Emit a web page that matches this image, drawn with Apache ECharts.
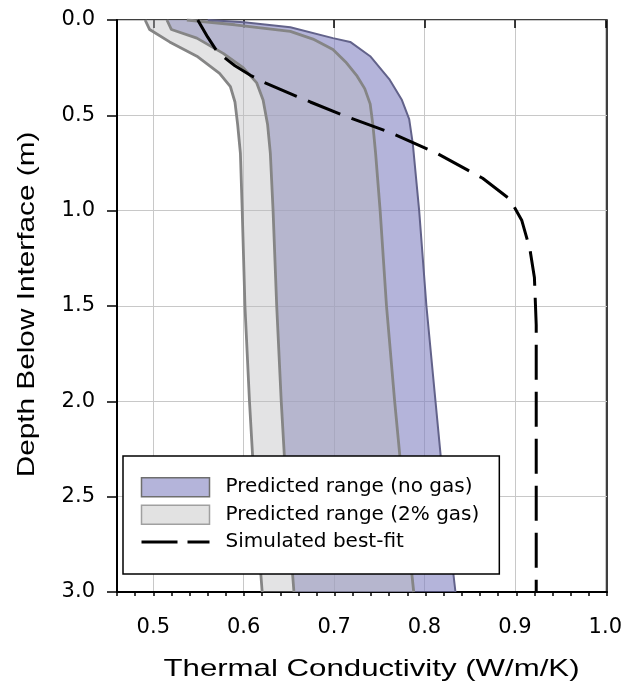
<!DOCTYPE html>
<html>
<head>
<meta charset="utf-8">
<script src="https://cdn.jsdelivr.net/npm/echarts@6/dist/echarts.min.js"></script>
<style>
html,body{margin:0;padding:0;background:#fff;}
#chart{width:625px;height:684px;}
</style>
</head>
<body>
<div id="chart"></div>
<script>
// ---- data: [thermal conductivity (W/m/K), depth (m)] ----
const noGasMin = [[0.515,0],[0.520,0.05],[0.548,0.095],[0.577,0.175],[0.599,0.25],[0.614,0.33],[0.621,0.42],[0.626,0.55],[0.629,0.7],[0.632,1.0],[0.636,1.5],[0.641,2.0],[0.647,2.5],[0.655,3.0]];
const noGasMax = [[0.560,0],[0.600,0.012],[0.651,0.038],[0.698,0.095],[0.717,0.115],[0.739,0.19],[0.760,0.31],[0.774,0.42],[0.782,0.52],[0.786,0.65],[0.793,1.0],[0.801,1.5],[0.811,2.0],[0.821,2.5],[0.833,3.0]];
const gasMin = [[0.491,0],[0.496,0.05],[0.518,0.115],[0.548,0.19],[0.573,0.28],[0.585,0.35],[0.590,0.43],[0.593,0.55],[0.596,0.7],[0.598,1.0],[0.601,1.5],[0.606,2.0],[0.612,2.5],[0.620,3.0]];
const gasMax = [[0.537,0],[0.590,0.025],[0.651,0.06],[0.676,0.1],[0.698,0.155],[0.712,0.22],[0.724,0.29],[0.733,0.36],[0.739,0.44],[0.742,0.55],[0.745,0.7],[0.750,1.0],[0.757,1.5],[0.766,2.0],[0.776,2.5],[0.787,3.0]];
const bestFit = [[0.549,0],[0.560,0.09],[0.571,0.17],[0.590,0.24],[0.607,0.29],[0.621,0.325],[0.658,0.40],[0.673,0.43],[0.709,0.5],[0.761,0.59],[0.813,0.70],[0.863,0.83],[0.893,0.94],[0.906,1.05],[0.915,1.2],[0.920,1.35],[0.922,1.6],[0.922,2.0],[0.922,2.5],[0.922,3.0]];

const seriesNames = ['Predicted range (no gas)', 'Predicted range (2% gas)', 'Simulated best-fit'];
const xTitle = 'Thermal Conductivity (W/m/K)';
const yTitle = 'Depth Below Interface (m)';

const kMin = 0.46, kMax = 1.0, kMinor = 0.02, kMajorStart = 0.5, kMajor = 0.1;
const dMin = 0, dMax = 3, dStep = 0.5;

// ---- layout ----
const G = {left:117, top:20, width:490, height:572};
const majorLeft = G.left + G.width * (kMajorStart - kMin) / (kMax - kMin);
const LABEL_FONT = "'DejaVu Sans', Verdana, sans-serif";
const TITLE_FONT = "'Liberation Sans', Arial, sans-serif";

function band(left, right, fill) {
  return function (params, api) {
    if (params.dataIndex !== 0) return null;
    const pts = left.map(p => api.coord(p)).concat(right.slice().reverse().map(p => api.coord(p)));
    return {type:'polygon', shape:{points:pts}, style:{fill:fill, stroke:'none'}};
  };
}
function edge(name, data, color, width) {
  return {name:name, type:'line', xAxisIndex:0, yAxisIndex:0, data:data, symbol:'none', silent:true,
          lineStyle:{color:color, width:width}, z:4, animation:false};
}

const chart = echarts.init(document.getElementById('chart'), null, {renderer:'canvas'});
chart.setOption({
  animation:false,
  backgroundColor:'#fff',
  textStyle:{fontFamily:LABEL_FONT},
  grid:[
    {left:G.left, top:G.top, width:G.width, height:G.height, show:true, borderColor:'#000', borderWidth:1.5, backgroundColor:'transparent'},
    {left:majorLeft, top:G.top, width:G.left + G.width - majorLeft, height:G.height}
  ],
  xAxis:[
    {type:'value', gridIndex:0, min:kMin, max:kMax, interval:kMinor,
     axisLine:{show:true, onZero:false, lineStyle:{color:'#000', width:2}},
     axisTick:{show:true, length:4, lineStyle:{color:'#000', width:1.5}},
     axisLabel:{show:false}, splitLine:{show:false}},
    {type:'value', gridIndex:1, min:kMajorStart, max:kMax, interval:kMajor,
     axisLine:{show:false},
     axisTick:{show:true, length:8, lineStyle:{color:'#000', width:1.5}},
     axisLabel:{show:true, margin:25, fontSize:21, color:'#000', fontFamily:LABEL_FONT, formatter:v => v.toFixed(1)},
     splitLine:{show:true, lineStyle:{color:'#c8c8c8', width:1}}}
  ],
  yAxis:[
    {type:'value', gridIndex:0, min:dMin, max:dMax, interval:dStep, inverse:true,
     axisLine:{show:true, onZero:false, lineStyle:{color:'#000', width:2}},
     axisTick:{show:true, length:10, lineStyle:{color:'#000', width:1.5}},
     axisLabel:{show:true, margin:22, fontSize:21, color:'#000', fontFamily:LABEL_FONT, formatter:v => v.toFixed(1)},
     splitLine:{show:true, lineStyle:{color:'#c8c8c8', width:1}}},
    {type:'value', gridIndex:1, min:dMin, max:dMax, interval:dStep, inverse:true, show:false}
  ],
  legend:{
    orient:'vertical', left:123, top:456, z:10,
    padding:[21, 20, 22, 17],
    backgroundColor:'#fff', borderColor:'#000', borderWidth:1.5, borderRadius:0,
    itemWidth:68, itemHeight:19, itemGap:7,
    textStyle:{fontSize:20, color:'#000', fontFamily:LABEL_FONT, padding:[0,0,0,11]},
    selectedMode:false,
    data:[
      {name:seriesNames[0], icon:'rect', itemStyle:{color:'#b4b4da', borderColor:'#6e6e6e', borderWidth:1.5}},
      {name:seriesNames[1], icon:'rect', itemStyle:{color:'#e2e2e2', borderColor:'#a0a0a0', borderWidth:1.5}},
      {name:seriesNames[2], itemStyle:{color:'rgba(0,0,0,0)', borderColor:'rgba(0,0,0,0)', borderWidth:0, opacity:0},
       lineStyle:{color:'#000', width:3, type:[36,10], opacity:1}}
    ]
  },
  graphic:[
    {type:'text', x:371.5, y:669, scaleX:1.3, style:{text:xTitle, font:'24px ' + TITLE_FONT, fill:'#000', textAlign:'center', textVerticalAlign:'middle'}},
    {type:'text', x:27, y:304.5, rotation:Math.PI/2, scaleX:1.24, style:{text:yTitle, font:'24px ' + TITLE_FONT, fill:'#000', textAlign:'center', textVerticalAlign:'middle'}}
  ],
  series:[
    {name:seriesNames[0], type:'custom', xAxisIndex:0, yAxisIndex:0, data:[[0.7,1.5]], encode:{x:0, y:1},
     renderItem:band(noGasMin, noGasMax, 'rgba(130,130,193,0.6)'), itemStyle:{color:'#b4b4da'}, z:2, silent:true, clip:true},
    {name:seriesNames[1], type:'custom', xAxisIndex:0, yAxisIndex:0, data:[[0.6,1.5]], encode:{x:0, y:1},
     renderItem:band(gasMin, gasMax, 'rgba(184,184,188,0.4)'), itemStyle:{color:'#e2e2e2'}, z:3, silent:true, clip:true},
    edge('noGasMinEdge', noGasMin, '#858585', 2.8),
    edge('gasMinEdge', gasMin, '#858585', 2.8),
    edge('gasMaxEdge', gasMax, '#858585', 2.8),
    edge('noGasMaxEdge', noGasMax, '#62628a', 2),
    {name:seriesNames[2], type:'line', xAxisIndex:0, yAxisIndex:0, data:bestFit, symbol:'none', silent:true, z:6,
     lineStyle:{color:'#000', width:3, type:[35,12]}}
  ]
});
</script>
</body>
</html>
